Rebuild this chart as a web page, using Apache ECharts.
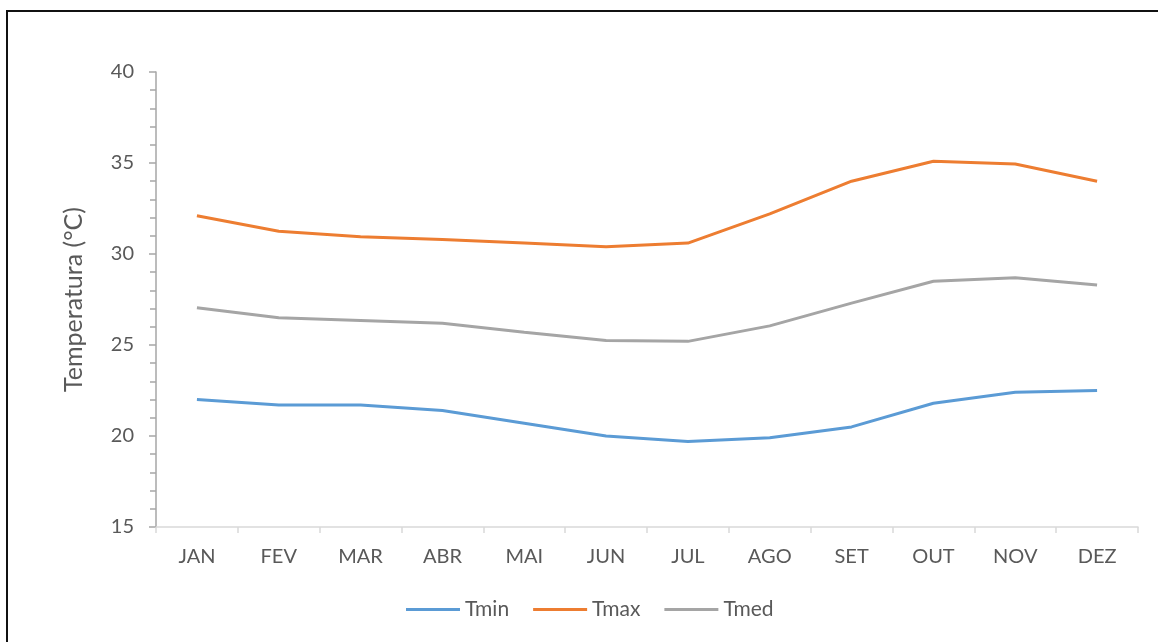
<!DOCTYPE html>
<html>
<head>
<meta charset="utf-8">
<script src="https://cdn.jsdelivr.net/npm/echarts@6/dist/echarts.min.js"></script>
<style>
html,body{margin:0;padding:0;background:#fff;}
#chart{width:1158px;height:642px;}
</style>
</head>
<body>
<div id="chart"></div>
<script>
const months = ['JAN','FEV','MAR','ABR','MAI','JUN','JUL','AGO','SET','OUT','NOV','DEZ'];
const tmin = [22.0, 21.7, 21.7, 21.4, 20.7, 20.0, 19.7, 19.9, 20.5, 21.8, 22.4, 22.5];
const tmax = [32.1, 31.25, 30.95, 30.8, 30.6, 30.4, 30.6, 32.2, 34.0, 35.1, 34.95, 34.0];
const tmed = [27.05, 26.5, 26.35, 26.2, 25.7, 25.25, 25.2, 26.05, 27.3, 28.5, 28.7, 28.3];
const seriesNames = ['Tmin', 'Tmax', 'Tmed'];
const yName = 'Temperatura (°C)';

const font = 'Lato, "Open Sans", sans-serif';
const chart = echarts.init(document.getElementById('chart'), null, {renderer:'canvas'});
chart.setOption({
  animation: false,
  backgroundColor: '#fff',
  color: ['#5b9bd5', '#ed7d31', '#a5a5a5'],
  graphic: [{
    type: 'rect',
    shape: {x: 7, y: 11, width: 1300, height: 800},
    style: {fill: 'none', stroke: '#111', lineWidth: 2},
    silent: true
  }],
  grid: {left: 156, right: 20, top: 72, bottom: 115},
  legend: {
    bottom: 17,
    left: 401,
    itemWidth: 54,
    itemHeight: 3,
    itemGap: 24,
    textStyle: {fontFamily: font, fontSize: 21, color: '#595959'},
    data: seriesNames.map(n => ({name: n, icon: 'rect'}))
  },
  xAxis: {
    type: 'category',
    data: months,
    boundaryGap: true,
    axisLine: {lineStyle: {color: '#d9d9d9', width: 1.5}},
    axisTick: {show: true, length: 6, lineStyle: {color: '#d9d9d9', width: 1.5}},
    axisLabel: {fontFamily: font, fontSize: 20, color: '#595959', margin: 20},
    splitLine: {show: false}
  },
  yAxis: {
    type: 'value',
    min: 15, max: 40, interval: 5,
    name: yName,
    nameLocation: 'middle',
    nameGap: 70,
    nameTextStyle: {fontFamily: font, fontSize: 25, color: '#595959'},
    axisLine: {show: true, lineStyle: {color: '#a6a6a6', width: 1.5}},
    axisTick: {show: true, inside: false, length: 7, lineStyle: {color: '#a6a6a6', width: 1.5}},
    minorTick: {show: true, splitNumber: 5, length: 6, lineStyle: {color: '#a6a6a6', width: 1.5}},
    axisLabel: {fontFamily: font, fontSize: 20, color: '#595959', margin: 22},
    splitLine: {show: false}
  },
  series: [
    {name: seriesNames[0], type: 'line', data: tmin, symbol: 'none', lineStyle: {width: 3}},
    {name: seriesNames[1], type: 'line', data: tmax, symbol: 'none', lineStyle: {width: 3}},
    {name: seriesNames[2], type: 'line', data: tmed, symbol: 'none', lineStyle: {width: 3}}
  ]
});
</script>
</body>
</html>
